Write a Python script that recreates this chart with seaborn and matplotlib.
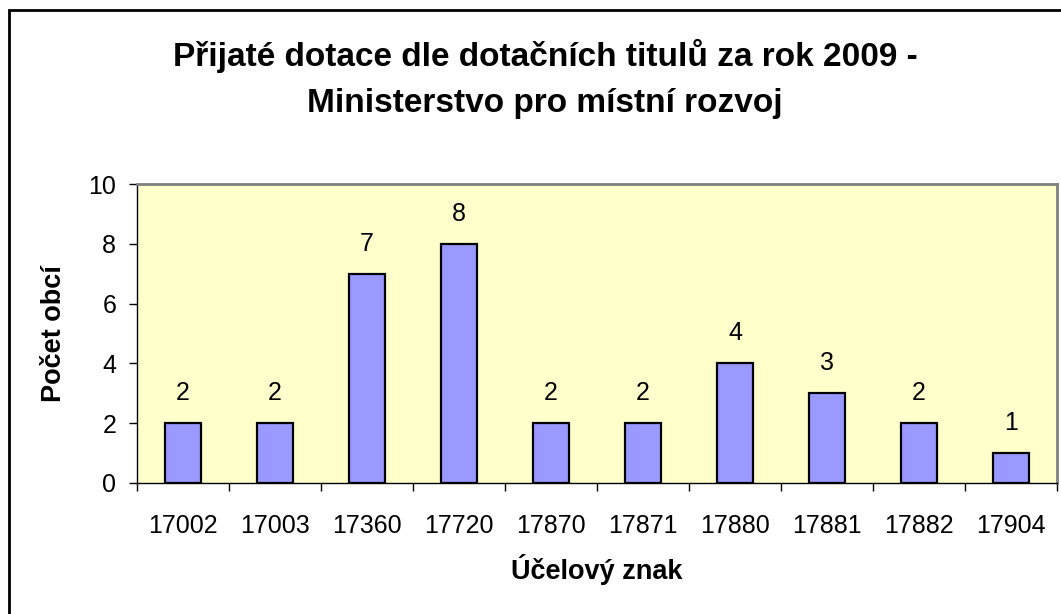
import matplotlib
matplotlib.use("Agg")
import matplotlib.pyplot as plt
import seaborn as sns
import pandas as pd
from matplotlib.patches import Rectangle

# data
codes = ["17002", "17003", "17360", "17720", "17870", "17871", "17880", "17881", "17882", "17904"]
counts = [2, 2, 7, 8, 2, 2, 4, 3, 2, 1]

title_lines = ["Přijaté dotace dle dotačních titulů za rok 2009 -",
               "Ministerstvo pro místní rozvoj"]

df = pd.DataFrame({"code": codes, "count": counts})

sns.set_style("white")
plt.rcParams["font.family"] = ["Liberation Sans", "DejaVu Sans"]
plt.rcParams["text.color"] = "black"
plt.rcParams["axes.labelcolor"] = "black"
plt.rcParams["xtick.color"] = "black"
plt.rcParams["ytick.color"] = "black"

fig = plt.figure(figsize=(10.61, 6.14), dpi=100)
ax = fig.add_axes([137 / 1061, 1 - 483 / 614, (1057 - 137) / 1061, (483 - 184) / 614])
ax.set_facecolor("#FFFFCC")

sns.barplot(data=df, x="code", y="count", order=codes, color="#9999FF",
            edgecolor="black", linewidth=1.6, width=0.39, saturation=1, ax=ax)

for i, v in enumerate(counts):
    ax.annotate(str(v), (i, v), xytext=(0, 13), textcoords="offset points",
                ha="center", va="bottom", fontsize=18, color="black")

ax.set_ylim(0, 10)
ax.set_yticks(range(0, 11, 2))
ax.set_xlim(-0.5, len(codes) - 0.5)
ax.set_xticks([i - 0.5 for i in range(len(codes) + 1)], minor=True)
ax.tick_params(axis="x", which="major", length=0, labelsize=18, pad=22)
ax.tick_params(axis="x", which="minor", length=6, width=1, color="black", direction="out", bottom=True)
ax.tick_params(axis="y", length=6, width=1, color="black", direction="out", left=True, labelsize=18, pad=9)

ax.set_xlabel("Účelový znak", fontsize=19.5, fontweight="bold", labelpad=12)
ax.set_ylabel("Počet obcí", fontsize=19.5, fontweight="bold", labelpad=15)

for s in ["left", "bottom"]:
    ax.spines[s].set_color("black")
    ax.spines[s].set_linewidth(1)
for s in ["top", "right"]:
    ax.spines[s].set_color("#808080")
    ax.spines[s].set_linewidth(2)

fig.text(545 / 1061, 1 - 66 / 614, title_lines[0], ha="center", va="baseline",
         fontsize=24, fontweight="bold")
fig.text(545 / 1061, 1 - 112 / 614, title_lines[1], ha="center", va="baseline",
         fontsize=24, fontweight="bold")

# chart border
fig.add_artist(Rectangle((9 / 1061, -0.1), 1.2, 1 - 10 / 614 + 0.1, transform=fig.transFigure,
                         fill=False, edgecolor="black", linewidth=2))

fig.savefig("out.png", dpi=100)
